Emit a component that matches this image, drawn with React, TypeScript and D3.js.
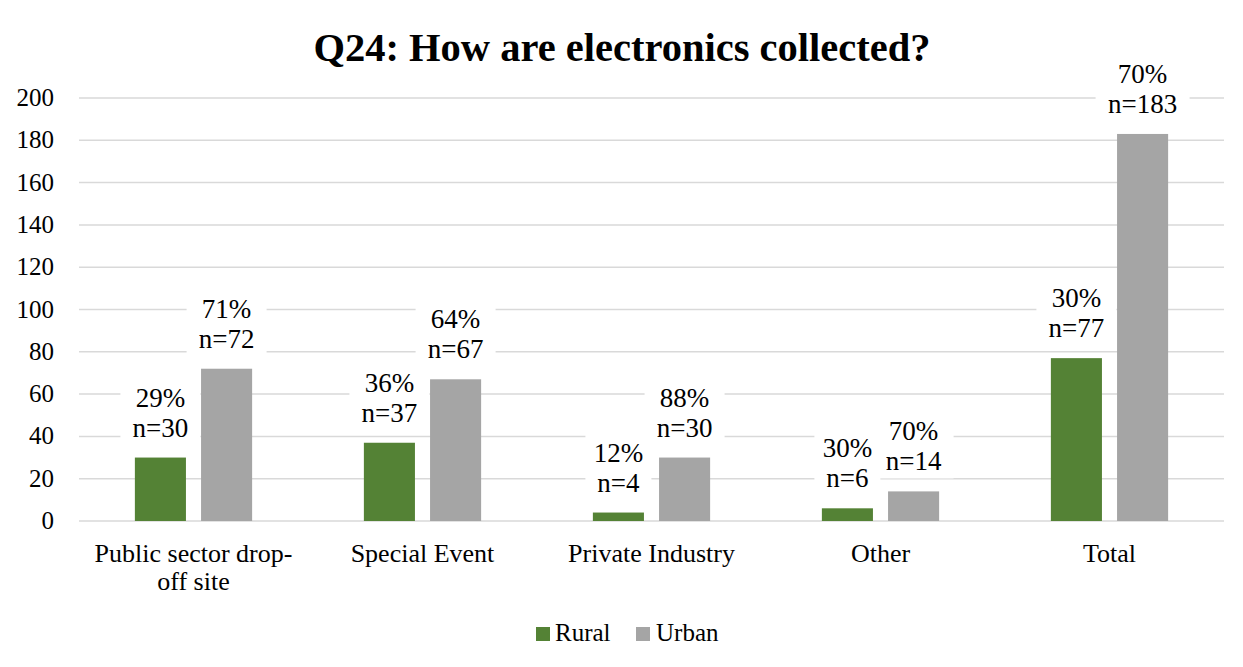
import React from "react";
import * as d3 from "d3";

const categories = ["Public sector drop-off site", "Special Event", "Private Industry", "Other", "Total"];
const categoryLines = [["Public sector drop-", "off site"], ["Special Event"], ["Private Industry"], ["Other"], ["Total"]];
const ruralValues = [30, 37, 4, 6, 77];
const urbanValues = [72, 67, 30, 14, 183];
const ruralPct = ["29%", "36%", "12%", "30%", "30%"];
const urbanPct = ["71%", "64%", "88%", "70%", "70%"];
const yTicks = [0, 20, 40, 60, 80, 100, 120, 140, 160, 180, 200];
const seriesNames = ["Rural", "Urban"];
const seriesColors = ["#548235", "#A5A5A5"];

const W = 1243;
const H = 667;
const margin = { left: 79, right: 19, top: 98, bottom: 146 };
const serif = '"Liberation Serif", "Times New Roman", serif';

export default function App() {
  const x = d3.scaleBand<string>().domain(categories).range([margin.left, W - margin.right]).padding(0);
  const y = d3.scaleLinear().domain([0, 200]).range([H - margin.bottom, margin.top]);
  const bw = x.bandwidth();
  const barW = bw * 0.223;
  const gap = bw * 0.066;

  const series = [
    { values: ruralValues, pct: ruralPct, color: seriesColors[0], off: -gap / 2 - barW },
    { values: urbanValues, pct: urbanPct, color: seriesColors[1], off: gap / 2 },
  ];

  const labelFs = 27;
  const labelW = (s: string) => s.length * 14 + 24;
  const st = (fs: number, bold = false): React.CSSProperties => ({
    fontFamily: serif,
    fontSize: fs,
    fontWeight: bold ? 700 : 400,
  });

  return (
    <svg width={W} height={H} style={{ position: "absolute", left: 0, top: 0, background: "#fff" }}>
      <text x={622} y={61} textAnchor="middle" style={st(40.5, true)}>
        Q24: How are electronics collected?
      </text>
      {yTicks.map((t) => (
        <g key={t}>
          <line x1={margin.left} x2={W - margin.right} y1={y(t)} y2={y(t)} stroke="#d9d9d9" strokeWidth={1.5} />
          <text x={54} y={y(t) + 8} textAnchor="end" style={st(25)}>
            {t}
          </text>
        </g>
      ))}
      {series.map((s, si) =>
        categories.map((c, i) => {
          const cx = (x(c) as number) + bw / 2;
          const bx = cx + s.off;
          const top = y(s.values[i]);
          return (
            <rect key={`b${si}-${i}`} x={bx} y={top} width={barW} height={y(0) - top} fill={s.color} />
          );
        })
      )}
      {series.map((s, si) =>
        categories.map((c, i) => {
          const cx = (x(c) as number) + bw / 2;
          const lx = cx + s.off + barW / 2;
          const top = y(s.values[i]);
          const nText = `n=${s.values[i]}`;
          const bwid = Math.max(labelW(nText), labelW(s.pct[i]));
          const base2 = top - 21;
          const base1 = base2 - 30;
          return (
            <g key={`l${si}-${i}`}>
              <rect x={lx - bwid / 2} y={base1 - 28} width={bwid} height={66} fill="#fff" />
              <text x={lx} y={base1} textAnchor="middle" style={st(labelFs)}>
                {s.pct[i]}
              </text>
              <text x={lx} y={base2} textAnchor="middle" style={st(labelFs)}>
                {nText}
              </text>
            </g>
          );
        })
      )}
      {categories.map((c, i) => {
        const cx = (x(c) as number) + bw / 2;
        return (
          <text key={`c${i}`} textAnchor="middle" style={st(26)}>
            {categoryLines[i].map((ln, j) => (
              <tspan key={j} x={cx} y={562 + j * 28}>
                {ln}
              </tspan>
            ))}
          </text>
        );
      })}
      <g>
        <rect x={536} y={627} width={14} height={14} fill={seriesColors[0]} />
        <text x={555} y={641} style={st(25)}>
          {seriesNames[0]}
        </text>
        <rect x={636} y={627} width={14} height={14} fill={seriesColors[1]} />
        <text x={656} y={641} style={st(25)}>
          {seriesNames[1]}
        </text>
      </g>
    </svg>
  );
}
